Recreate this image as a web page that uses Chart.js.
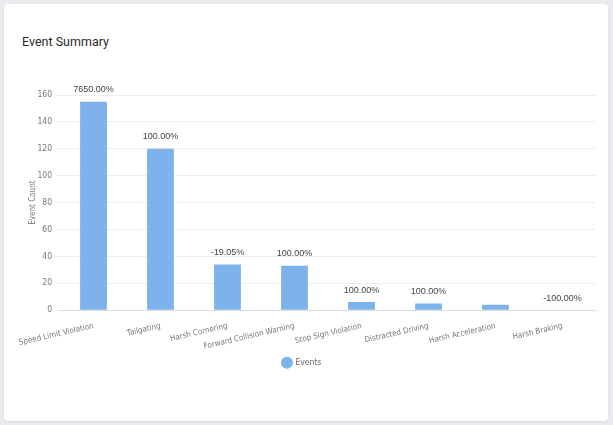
<!DOCTYPE html>
<html>
<head>
<meta charset="utf-8">
<script src="https://cdn.jsdelivr.net/npm/chart.js@4"></script>
<style>
  html, body { margin: 0; padding: 0; background: #e9ebee; width: 613px; height: 425px; overflow: hidden; }
  .card {
    position: absolute; left: 4px; top: 4px; width: 604px; height: 417px;
    background: #fff; border-radius: 4px; box-shadow: 0 1px 2px rgba(0,0,0,0.08);
  }
  .title {
    position: absolute; left: 18px; top: 30px;
    font-family: "Roboto", sans-serif; font-size: 12.5px; color: #2a2a2a;
  }
  .wrap { position: absolute; left: 4px; top: 70px; width: 594px; height: 303px; }
</style>
</head>
<body>
<div class="card">
  <div class="title">Event Summary</div>
  <div class="wrap"><canvas id="eventChart"></canvas></div>
</div>
<script>
const categorias = [
    "Speed Limit Violation",
    "Tailgating",
    "Harsh Cornering",
    "Forward Collision Warning",
    "Stop Sign Violation",
    "Distracted Driving",
    "Harsh Acceleration",
    "Harsh Braking"
];
const eventos = [155, 120, 34, 33, 6, 5, 4, 0];
const variacoes = ["7650.00%", "100.00%", "-19.05%", "100.00%", "100.00%", "100.00%", "", "-100.00%"];

const fonteEixo = "'DejaVu Sans Condensed', Roboto, sans-serif";

// rotulos de variacao acima de cada barra
const rotulosPlugin = {
    id: "rotulos",
    afterDatasetsDraw(chart) {
        const ctx = chart.ctx;
        const meta = chart.getDatasetMeta(0);
        ctx.save();
        ctx.font = "9px 'Liberation Sans', Arial, sans-serif";
        ctx.fillStyle = "#444";
        ctx.textAlign = "center";
        ctx.textBaseline = "middle";
        meta.data.forEach((bar, i) => {
            if (!variacoes[i]) return;
            ctx.fillText(variacoes[i], bar.x, bar.y - 12);
        });
        ctx.restore();
    }
};

new Chart(document.getElementById("eventChart").getContext("2d"), {
    type: "bar",
    data: {
        labels: categorias,
        datasets: [{
            label: "Events",
            data: eventos,
            backgroundColor: "#7db3ea",
            borderWidth: 0,
            barPercentage: 0.5,
            categoryPercentage: 0.8
        }]
    },
    options: {
        responsive: true,
        maintainAspectRatio: false,
        animation: false,
        layout: { padding: { top: 21, right: 6 } },
        plugins: {
            legend: {
                position: "bottom",
                labels: {
                    usePointStyle: true,
                    pointStyle: "circle",
                    boxWidth: 10,
                    boxHeight: 10,
                    color: "#666",
                    font: { family: fonteEixo, size: 8.5 },
                    padding: 4
                }
            },
            tooltip: { enabled: false }
        },
        scales: {
            x: {
                grid: { display: false },
                border: { color: "#ddd" },
                ticks: {
                    color: "#777",
                    font: { family: fonteEixo, size: 8 },
                    minRotation: 13,
                    maxRotation: 13,
                    autoSkip: false
                }
            },
            y: {
                min: 0,
                max: 160,
                border: { display: false },
                grid: { color: "#eeeeee", tickLength: 4 },
                afterFit(scale) { scale.width = 52; },
                title: {
                    display: true,
                    text: "Event Count",
                    color: "#777",
                    font: { family: fonteEixo, size: 8 },
                    padding: { top: 20, bottom: 0 }
                },
                ticks: {
                    stepSize: 20,
                    padding: 4,
                    color: "#777",
                    font: { family: fonteEixo, size: 8.5 }
                }
            }
        }
    },
    plugins: [rotulosPlugin]
});
</script>
</body>
</html>
